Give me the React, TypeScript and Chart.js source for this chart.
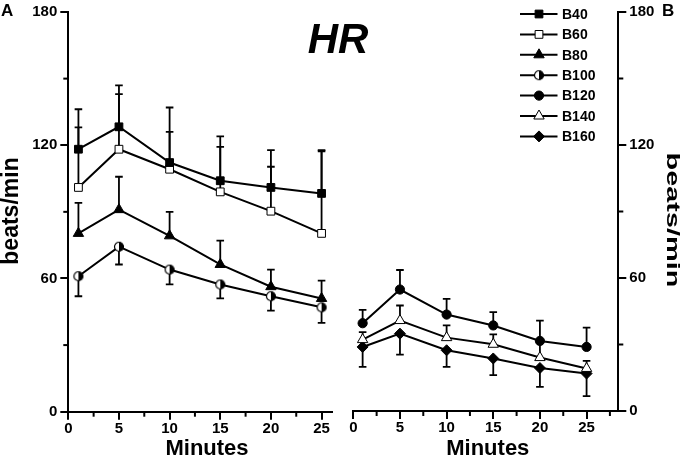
import React, { useEffect, useRef } from 'react';
import { Chart, registerables } from 'chart.js';
Chart.register(...registerables);

const FONT = "'Liberation Sans', Arial, Helvetica, sans-serif";

// ---- data ----
const minutes = [1, 5, 10, 15, 20, 25];
const b40 = [118.2, 128.3, 112.2, 104, 101, 98.3];
const b40Err = [18, 18.7, 24.8, 20, 16.8, 19.5];
const b60 = [101, 118.2, 109.2, 99, 90.3, 80.3];
const b60Err = [27, 24.8, 16.8, 20.3, 20, 37];
const b80 = [80.3, 91, 79.2, 66.3, 56.3, 51];
const b80Err = [13.7, 14.8, 10.8, 10.7, 7.7, 8];
const b100 = [61, 74.3, 64, 57.3, 52, 47];
const b100Err = [9, 8, 6.7, 6.3, 6.5, 7];
const b120 = [39.6, 54.8, 43.5, 38.6, 31.6, 28.9];
const b120Err = [6, 8.8, 7.1, 6, 9.2, 8.7];
const b140 = [32.2, 40.8, 33.1, 30.1, 24.1, 19.2];
const b140Err = [3.4, 6.8, 5.5, 4.5, 8, 3.4];
const b160 = [28.9, 34.9, 27.4, 23.7, 19.4, 16.9];
const b160Err = [9, 9.5, 7.5, 7.5, 8.5, 10.2];

const yTicksMajor = [0, 60, 120, 180];
const xTicksMajor = [0, 5, 10, 15, 20, 25];

function makeHalfCircle(r: number) {
  const c = document.createElement('canvas');
  const s = Math.ceil(r * 2 + 3);
  c.width = s;
  c.height = s;
  const g = c.getContext('2d') as CanvasRenderingContext2D;
  const m = s / 2;
  g.beginPath();
  g.arc(m, m, r, 0, Math.PI * 2);
  g.fillStyle = '#fff';
  g.fill();
  g.beginPath();
  g.arc(m, m, r, -Math.PI / 2, Math.PI / 2);
  g.closePath();
  g.fillStyle = '#000';
  g.fill();
  g.beginPath();
  g.arc(m, m, r, 0, Math.PI * 2);
  g.lineWidth = 1.2;
  g.strokeStyle = '#000';
  g.stroke();
  return c;
}

type Series = {
  label: string;
  values: number[];
  err: number[];
  dir: number;
  style: string;
  fill: string;
  radius: number;
  panel: number;
};

function buildSeries(): Series[] {
  return [
    { label: 'B40', values: b40, err: b40Err, dir: 1, style: 'rect', fill: '#000', radius: 5.5, panel: 0 },
    { label: 'B60', values: b60, err: b60Err, dir: 1, style: 'rect', fill: '#fff', radius: 5.5, panel: 0 },
    { label: 'B80', values: b80, err: b80Err, dir: 1, style: 'triangle', fill: '#000', radius: 6, panel: 0 },
    { label: 'B100', values: b100, err: b100Err, dir: -1, style: 'half', fill: '#000', radius: 4.5, panel: 0 },
    { label: 'B120', values: b120, err: b120Err, dir: 1, style: 'circle', fill: '#000', radius: 4.6, panel: 1 },
    { label: 'B140', values: b140, err: b140Err, dir: 1, style: 'triangle', fill: '#fff', radius: 6, panel: 1 },
    { label: 'B160', values: b160, err: b160Err, dir: -1, style: 'rectRot', fill: '#000', radius: 5.5, panel: 1 },
  ];
}

function drawMarker(ctx: CanvasRenderingContext2D, s: Series, x: number, y: number, half: HTMLCanvasElement) {
  if (s.style === 'half') {
    ctx.drawImage(half, x - half.width / 2, y - half.height / 2);
    return;
  }
  const r = s.radius;
  ctx.beginPath();
  if (s.style === 'rect') {
    const a = r * Math.SQRT1_2;
    ctx.rect(x - a, y - a, 2 * a, 2 * a);
  } else if (s.style === 'circle') {
    ctx.arc(x, y, r, 0, Math.PI * 2);
  } else if (s.style === 'triangle') {
    for (let k = 0; k < 3; k++) {
      const ang = -Math.PI / 2 + (k * 2 * Math.PI) / 3;
      const px = x + Math.cos(ang) * r;
      const py = y + Math.sin(ang) * r;
      if (k === 0) ctx.moveTo(px, py);
      else ctx.lineTo(px, py);
    }
    ctx.closePath();
  } else if (s.style === 'rectRot') {
    ctx.moveTo(x, y - r);
    ctx.lineTo(x + r, y);
    ctx.lineTo(x, y + r);
    ctx.lineTo(x - r, y);
    ctx.closePath();
  }
  ctx.fillStyle = s.fill;
  ctx.fill();
  ctx.lineWidth = 1;
  ctx.strokeStyle = '#000';
  ctx.stroke();
}

const errorBarPlugin = {
  id: 'errorBars',
  beforeDatasetsDraw(chart: any) {
    const ctx = chart.ctx as CanvasRenderingContext2D;
    const xs = chart.scales.x;
    const ys = chart.scales.y;
    ctx.save();
    ctx.strokeStyle = '#000';
    ctx.lineWidth = 1.8;
    chart.data.datasets.forEach((ds: any) => {
      ds.data.forEach((pt: any, i: number) => {
        const e = ds.errors[i];
        if (!e) return;
        const px = xs.getPixelForValue(pt.x);
        const py = ys.getPixelForValue(pt.y);
        const ey = ys.getPixelForValue(pt.y + ds.errDir * e);
        ctx.beginPath();
        ctx.moveTo(px, py);
        ctx.lineTo(px, ey);
        ctx.moveTo(px - 3.8, ey);
        ctx.lineTo(px + 3.8, ey);
        ctx.stroke();
      });
    });
    ctx.restore();
  },
};

// draws the shorter minor ticks (the major ones are drawn by Chart.js)
const minorTickPlugin = {
  id: 'minorTicks',
  afterDraw(chart: any) {
    const ctx = chart.ctx as CanvasRenderingContext2D;
    ctx.save();
    ctx.strokeStyle = '#000';
    ctx.lineWidth = 2;
    const xs = chart.scales.x;
    const ys = chart.scales.y;
    xs.ticks.forEach((t: any) => {
      if (xTicksMajor.includes(t.value)) return;
      const px = xs.getPixelForValue(t.value);
      ctx.beginPath();
      ctx.moveTo(px, xs.top);
      ctx.lineTo(px, xs.top + 5);
      ctx.stroke();
    });
    ys.ticks.forEach((t: any) => {
      if (yTicksMajor.includes(t.value)) return;
      const py = ys.getPixelForValue(t.value);
      ctx.beginPath();
      if (ys.position === 'left') {
        ctx.moveTo(ys.right, py);
        ctx.lineTo(ys.right - 5, py);
      } else {
        ctx.moveTo(ys.left, py);
        ctx.lineTo(ys.left + 5, py);
      }
      ctx.stroke();
    });
    ctx.restore();
  },
};

function makeDatasets(series: Series[], half: HTMLCanvasElement) {
  return series.map((s) => ({
    label: s.label,
    data: minutes.map((m, i) => ({ x: m, y: s.values[i] })),
    errors: s.err,
    errDir: s.dir,
    borderColor: '#000',
    borderWidth: 2,
    pointStyle: s.style === 'half' ? half : s.style,
    pointRadius: s.radius,
    pointBackgroundColor: s.fill,
    pointBorderColor: '#000',
    pointBorderWidth: 1,
    showLine: true,
    tension: 0,
  }));
}

function axisOpts(majors: number[], extra: any) {
  return {
    type: 'linear',
    grid: {
      drawOnChartArea: false,
      drawTicks: true,
      tickLength: 8,
      color: '#000',
      lineWidth: 2,
      tickColor: (c: any) => (c.tick && majors.includes(c.tick.value) ? '#000' : 'rgba(0,0,0,0)'),
    },
    border: { display: true, color: '#000', width: 2 },
    ...extra,
  };
}

const tickFont = { family: FONT, weight: 'bold', size: 15 };

export default function App() {
  const leftRef = useRef<HTMLCanvasElement>(null);
  const rightRef = useRef<HTMLCanvasElement>(null);

  useEffect(() => {
    const half = makeHalfCircle(4.5);
    const series = buildSeries();
    const leftSeries = series.filter((s) => s.panel === 0);
    const rightSeries = series.filter((s) => s.panel === 1);

    const leftText = {
      id: 'leftText',
      afterDraw(chart: any) {
        const ctx = chart.ctx as CanvasRenderingContext2D;
        const xs = chart.scales.x;
        ctx.save();
        ctx.fillStyle = '#000';
        ctx.textBaseline = 'alphabetic';
        ctx.font = `bold 17px ${FONT}`;
        ctx.textAlign = 'left';
        ctx.fillText('A', 1, 16);
        ctx.font = `italic bold 42px ${FONT}`;
        ctx.textAlign = 'center';
        ctx.fillText('HR', 338, 53);
        ctx.font = `bold 22px ${FONT}`;
        ctx.fillText('Minutes', (xs.left + xs.right) / 2 + 7, 455);
        ctx.translate(18, 211);
        ctx.rotate(-Math.PI / 2);
        ctx.font = `bold 23px ${FONT}`;
        ctx.fillText('beats/min', 0, 0);
        ctx.restore();
      },
    };

    const rightText = {
      id: 'rightText',
      afterDraw(chart: any) {
        const ctx = chart.ctx as CanvasRenderingContext2D;
        const xs = chart.scales.x;
        ctx.save();
        ctx.fillStyle = '#000';
        ctx.textBaseline = 'alphabetic';
        ctx.font = `bold 17px ${FONT}`;
        ctx.textAlign = 'left';
        ctx.fillText('B', 662, 16);
        ctx.font = `bold 22px ${FONT}`;
        ctx.textAlign = 'center';
        ctx.fillText('Minutes', (xs.left + xs.right) / 2 + 2, 455);
        ctx.save();
        ctx.translate(667, 220);
        ctx.rotate(Math.PI / 2);
        ctx.scale(1.52, 1);
        ctx.font = `bold 19px ${FONT}`;
        ctx.fillText('beats/min', 0, 0);
        ctx.restore();
        // legend
        ctx.font = `bold 14px ${FONT}`;
        ctx.textAlign = 'left';
        ctx.textBaseline = 'middle';
        series.forEach((s, i) => {
          const y = 14 + i * 20.4;
          ctx.beginPath();
          ctx.strokeStyle = '#000';
          ctx.lineWidth = 2;
          ctx.moveTo(520, y);
          ctx.lineTo(557.5, y);
          ctx.stroke();
          drawMarker(ctx, s, 539, y, half);
          ctx.fillStyle = '#000';
          ctx.fillText(s.label, 562, y + 1);
        });
        ctx.restore();
      },
    };

    const common = {
      animation: false,
      responsive: false,
      devicePixelRatio: 1,
      plugins: { legend: { display: false }, tooltip: { enabled: false }, title: { display: false } },
      events: [],
    };

    const xTickCb = (v: number) => (xTicksMajor.includes(v) ? String(v) : '');
    const yTickCb = (v: number) => (yTicksMajor.includes(v) ? String(v) : '');

    const left = new Chart(leftRef.current as HTMLCanvasElement, {
      type: 'scatter',
      data: { datasets: makeDatasets(leftSeries, half) as any },
      options: {
        ...common,
        layout: { padding: { left: 0, top: 11.7, right: 685 - 331.7, bottom: 0 } },
        scales: {
          x: axisOpts(xTicksMajor, {
            min: 0,
            max: 26,
            afterFit: (s: any) => { s.height = 457 - 411.7; },
            ticks: { stepSize: 2.5, includeBounds: false, autoSkip: false, maxRotation: 0, padding: 0, color: '#000', font: tickFont, callback: xTickCb },
          }),
          y: axisOpts(yTicksMajor, {
            min: 0,
            max: 180,
            position: 'left',
            afterFit: (s: any) => { s.width = 68.3; },
            ticks: { stepSize: 30, autoSkip: false, padding: 3, color: '#000', font: tickFont, callback: yTickCb },
          }),
        },
      } as any,
      plugins: [errorBarPlugin, minorTickPlugin, leftText],
    });

    const right = new Chart(rightRef.current as HTMLCanvasElement, {
      type: 'scatter',
      data: { datasets: makeDatasets(rightSeries, half) as any },
      options: {
        ...common,
        layout: { padding: { left: 353.3, top: 11, right: 0, bottom: 0 } },
        scales: {
          x: axisOpts(xTicksMajor, {
            min: 0,
            max: 28.4,
            afterFit: (s: any) => { s.height = 457 - 411; },
            ticks: { stepSize: 2.5, includeBounds: false, autoSkip: false, maxRotation: 0, padding: 0, color: '#000', font: tickFont, callback: xTickCb },
          }),
          y: axisOpts(yTicksMajor, {
            min: 0,
            max: 180,
            position: 'right',
            afterFit: (s: any) => { s.width = 685 - 618.3; },
            ticks: { stepSize: 30, autoSkip: false, padding: 3, color: '#000', font: tickFont, callback: yTickCb },
          }),
        },
      } as any,
      plugins: [errorBarPlugin, minorTickPlugin, rightText],
    });

    return () => {
      left.destroy();
      right.destroy();
    };
  }, []);

  const cstyle: React.CSSProperties = { position: 'absolute', left: 0, top: 0, width: 685, height: 457 };
  return (
    <div style={{ position: 'fixed', left: 0, top: 0, width: 685, height: 457, background: '#fff' }}>
      <canvas ref={leftRef} width={685} height={457} style={cstyle} />
      <canvas ref={rightRef} width={685} height={457} style={cstyle} />
    </div>
  );
}
